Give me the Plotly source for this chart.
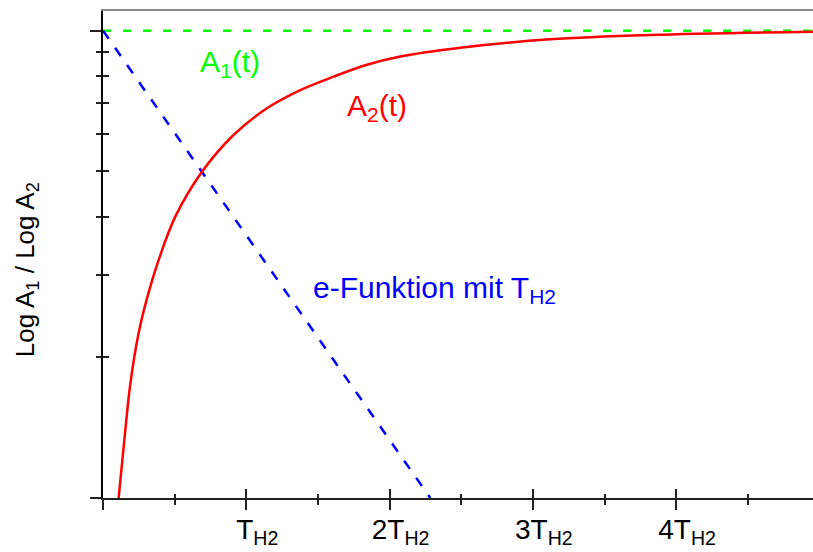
import plotly.graph_objects as go

# ---- data (time in units of T_H2, activity on log scale) ----
t_a1 = [0.0, 4.96]
a1 = [10.0, 10.0]

t_efunc = [0.0, 2.284]
efunc = [10.0, 1.0]

t_a2 = [0.109, 0.156, 0.191, 0.248, 0.307, 0.388, 0.5045, 0.691, 0.911, 1.144,
        1.377, 1.609, 1.842, 2.075, 2.493, 3.12, 3.82, 4.957]
a2 = [1.0, 1.40, 1.758, 2.249, 2.673, 3.228, 4.0, 4.99, 5.98, 6.82,
      7.46, 7.97, 8.45, 8.80, 9.19, 9.58, 9.79, 9.95]

x_major = [0, 1, 2, 3, 4]
x_labels = ["T<sub>H2</sub>", "2T<sub>H2</sub>", "3T<sub>H2</sub>", "4T<sub>H2</sub>"]
x_minor = [0.5, 1.5, 2.5, 3.5, 4.5]
y_ticks_end = [1, 10]
y_ticks_mid = [2, 3, 4, 5, 6, 7, 8, 9]

X_RANGE = [0, 4.955]
Y_RANGE = [0, 1.042]

FONT = "Liberation Sans, Arial, sans-serif"
AX = "#222222"

fig = go.Figure()
fig.add_trace(go.Scatter(x=t_a1, y=a1, mode="lines",
                         line=dict(color="#00ff00", width=2.5, dash="8px,12px"),
                         showlegend=False, hoverinfo="skip"))
fig.add_trace(go.Scatter(x=t_efunc, y=efunc, mode="lines",
                         line=dict(color="#0000ff", width=2.5, dash="10px,11px"),
                         showlegend=False, hoverinfo="skip"))
fig.add_trace(go.Scatter(x=t_a2, y=a2, mode="lines", line_shape="spline",
                         line=dict(color="#ff0000", width=2.5),
                         showlegend=False, hoverinfo="skip"))
# empty helper traces so overlay axes are drawn
for xa, ya in [("x2", "y"), ("x3", "y"), ("x", "y2"), ("x", "y3")]:
    fig.add_trace(go.Scatter(x=[], y=[], xaxis=xa, yaxis=ya, mode="lines",
                             showlegend=False, hoverinfo="skip"))

fig.update_layout(
    width=813, height=552,
    margin=dict(l=103, r=0, t=11, b=54, autoexpand=False),
    paper_bgcolor="white", plot_bgcolor="white",
    font=dict(family=FONT, color="black"),
    xaxis=dict(range=X_RANGE, showgrid=False, zeroline=False,
               showline=True, linecolor=AX, linewidth=2,
               tickmode="array", tickvals=x_major,
               ticks="outside", ticklen=10, tickwidth=1.5, tickcolor=AX,
               showticklabels=False,
               minor=dict(tickmode="array", tickvals=x_minor, ticks="outside",
                          ticklen=5, tickwidth=1.5, tickcolor=AX, showgrid=False)),
    xaxis2=dict(range=X_RANGE, overlaying="x", anchor="y", side="bottom",
                showgrid=False, zeroline=False, showline=False,
                tickmode="array", tickvals=x_major[1:], ticktext=x_labels,
                ticks="inside", ticklen=9, tickwidth=1.5, tickcolor=AX,
                tickfont=dict(size=28, family=FONT, color="black"),
                ticklabelshift=11, ticklabelstandoff=12,
                minor=dict(tickmode="array", tickvals=x_minor, ticks="inside",
                           ticklen=4, tickwidth=1.5, tickcolor=AX, showgrid=False)),
    xaxis3=dict(range=X_RANGE, overlaying="x", anchor="y", side="top",
                showgrid=False, zeroline=False, showline=True,
                linecolor="#888888", linewidth=2, ticks="", showticklabels=False),
    yaxis=dict(type="log", range=Y_RANGE, showgrid=False, zeroline=False,
               showline=True, linecolor="black", linewidth=2,
               tickmode="array", tickvals=y_ticks_end, ticks="outside",
               ticklen=11, tickwidth=1.5, tickcolor=AX, showticklabels=False),
    yaxis2=dict(type="log", range=Y_RANGE, overlaying="y", anchor="x", side="left",
                showgrid=False, zeroline=False, showline=False,
                tickmode="array", tickvals=y_ticks_mid, ticks="outside",
                ticklen=6, tickwidth=1.5, tickcolor=AX, showticklabels=False),
    yaxis3=dict(type="log", range=Y_RANGE, overlaying="y", anchor="x", side="left",
                showgrid=False, zeroline=False, showline=False,
                tickmode="array", tickvals=y_ticks_mid, ticks="inside",
                ticklen=6, tickwidth=1.5, tickcolor=AX, showticklabels=False),
)

def px_x(px):
    return (px - 103) / 710.0

def px_y(py):
    return (497.7 - py) / 486.7

annots = [
    dict(text="A<sub>1</sub>(t)", x=px_x(230), y=px_y(63), color="#00ff00", size=30),
    dict(text="A<sub>2</sub>(t)", x=px_x(377), y=px_y(107), color="#ff0000", size=30),
    dict(text="e-Funktion mit T<sub>H2</sub>", x=px_x(434.5), y=px_y(289), color="#0000ff", size=30),
]
for a in annots:
    fig.add_annotation(text=a["text"], x=a["x"], y=a["y"], xref="paper", yref="paper",
                       showarrow=False, xanchor="center", yanchor="middle",
                       font=dict(size=a["size"], color=a["color"], family=FONT))

fig.add_annotation(text="Log A<sub>1</sub> / Log A<sub>2</sub>", textangle=-90,
                   x=px_x(26), y=px_y(270), xref="paper", yref="paper",
                   showarrow=False, xanchor="center", yanchor="middle",
                   font=dict(size=26, color="black", family=FONT))

fig.write_html("out.html", config={"displayModeBar": False},
               post_script="document.body.style.margin='0';document.body.style.overflow='hidden';")
